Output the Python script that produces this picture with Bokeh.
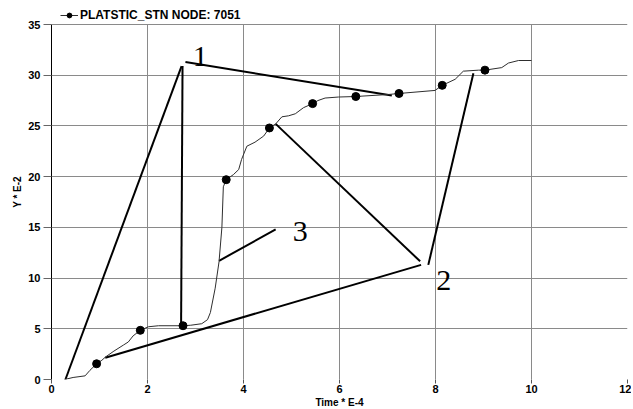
from bokeh.plotting import figure
from bokeh.models import Range1d, FixedTicker, Legend, LegendItem, ColumnDataSource
from bokeh.core.properties import value
from bokeh.embed import file_html
from bokeh.resources import INLINE

# ---- data -------------------------------------------------------------
curve_x = [0.27, 0.45, 0.70, 0.80, 0.94, 1.05, 1.12, 1.30, 1.50, 1.60, 1.70, 1.85,
           2.02, 2.23, 2.74, 2.90, 3.13, 3.25, 3.31, 3.41, 3.49, 3.55, 3.58, 3.64,
           3.79, 3.90, 3.96, 4.07, 4.24, 4.42, 4.54, 4.67, 4.80, 4.94, 5.08, 5.25,
           5.44, 5.55, 5.70, 5.98, 6.34, 7.02, 7.24, 7.99, 8.14, 8.41, 8.58, 8.90,
           9.03, 9.38, 9.52, 9.73, 10.0]
curve_y = [0.0, 0.2, 0.36, 0.9, 1.55, 1.9, 2.2, 2.8, 3.4, 3.7, 4.3, 4.85,
           5.2, 5.3, 5.3, 5.35, 5.5, 5.9, 6.6, 9.0, 11.6, 15.0, 19.0, 19.7,
           20.2, 20.7, 21.7, 23.0, 23.4, 24.0, 24.8, 25.2, 25.9, 26.0, 26.2, 26.8,
           27.2, 27.5, 27.75, 27.85, 27.9, 28.1, 28.2, 28.5, 29.0, 29.6, 30.4, 30.5,
           30.5, 30.75, 31.2, 31.45, 31.45]
marker_x = [0.94, 1.85, 2.74, 3.64, 4.54, 5.44, 6.34, 7.24, 8.14, 9.03]
marker_y = [1.55, 4.85, 5.3, 19.7, 24.8, 27.2, 27.9, 28.2, 29.0, 30.5]

series_name = "PLATSTIC_STN NODE: 7051"

# annotation strokes (start/end in data units)
ann_x0 = [0.29, 2.73, 2.79, 7.85, 1.12, 4.67, 3.49]
ann_y0 = [0.0, 30.9, 31.3, 11.3, 2.15, 25.2, 11.7]
ann_x1 = [2.71, 2.70, 7.09, 8.79, 7.70, 7.68, 4.67]
ann_y1 = [30.9, 5.4, 28.0, 30.2, 11.3, 11.65, 14.8]

ann_label = ["1", "2", "3"]
ann_label_x = [3.10, 8.17, 5.18]
ann_label_y = [31.8, 9.8, 14.6]

x_ticks = [0, 2, 4, 6, 8, 10, 12]
y_ticks = [0, 5, 10, 15, 20, 25, 30, 35]
y_max = 35

# ---- figure -----------------------------------------------------------
# the frame reaches 20px above the 35 line to hold the legend
plot_px = 355
head_px = 20
p = figure(frame_width=576, frame_height=plot_px + head_px,
           x_range=Range1d(0, 12),
           y_range=Range1d(0, y_max * (plot_px + head_px) / plot_px),
           output_backend="svg", toolbar_location=None,
           min_border_left=51, min_border_right=4, min_border_top=4,
           min_border_bottom=0)
p.outline_line_color = None
p.background_fill_color = "white"

grid_col = "#8a8a8a"
p.xgrid.ticker = FixedTicker(ticks=x_ticks)
p.ygrid.ticker = FixedTicker(ticks=y_ticks)
p.xgrid.grid_line_color = grid_col
p.ygrid.grid_line_color = grid_col
p.xgrid.cross_bounds = (0, y_max)

p.xaxis.ticker = FixedTicker(ticks=x_ticks)
p.yaxis.ticker = FixedTicker(ticks=y_ticks)
p.yaxis.bounds = (0, y_max)
p.xaxis.minor_tick_line_color = None
p.yaxis.minor_tick_line_color = None

p.xaxis.axis_line_color = None
p.xaxis.major_tick_line_color = "#555555"
p.xaxis.major_tick_out = 4
p.xaxis.major_tick_in = 0
p.xaxis.major_label_standoff = 1

p.yaxis.axis_line_color = "black"
p.yaxis.major_tick_line_color = "#666666"
p.yaxis.major_tick_out = 8
p.yaxis.major_tick_in = 0
p.yaxis.major_label_standoff = 3

for ax in (p.xaxis, p.yaxis):
    ax.major_label_text_font = "Liberation Sans"
    ax.major_label_text_font_style = "bold"
    ax.major_label_text_font_size = "11px"
    ax.major_label_text_color = "black"
    ax.axis_label_text_font = "Liberation Sans"
    ax.axis_label_text_font_style = "bold"
    ax.axis_label_text_font_size = "10px"
    ax.axis_label_text_color = "black"

p.xaxis.axis_label = "Time * E-4"
p.yaxis.axis_label = "Y * E-2"
p.xaxis.axis_label_standoff = 1
p.yaxis.axis_label_standoff = 2

# annotation strokes
p.segment(x0=ann_x0, y0=ann_y0, x1=ann_x1, y1=ann_y1,
          line_color="black", line_width=2)

# curve + markers
src_c = ColumnDataSource(dict(x=curve_x, y=curve_y))
src_m = ColumnDataSource(dict(x=marker_x, y=marker_y))
lr = p.line("x", "y", source=src_c, line_color="#2e2e2e", line_width=1)
sr = p.scatter("x", "y", source=src_m, marker="circle", size=8,
               fill_color="black", line_color="black")

p.text(x=ann_label_x, y=ann_label_y, text=ann_label,
       text_font=value("Liberation Serif"), text_font_size="30px",
       text_align="center", text_baseline="middle", text_color="black")

legend = Legend(items=[LegendItem(label=series_name, renderers=[lr, sr])],
                location=(9, 357), orientation="horizontal",
                glyph_width=18, glyph_height=12, label_standoff=2,
                padding=0, spacing=0, margin=0,
                label_text_font="Liberation Sans", label_text_font_style="bold",
                label_text_font_size="12px", label_height=12,
                label_text_color="black",
                border_line_color=None, background_fill_alpha=0)
p.add_layout(legend, "center")

open("out.html", "w").write(file_html(p, INLINE))
